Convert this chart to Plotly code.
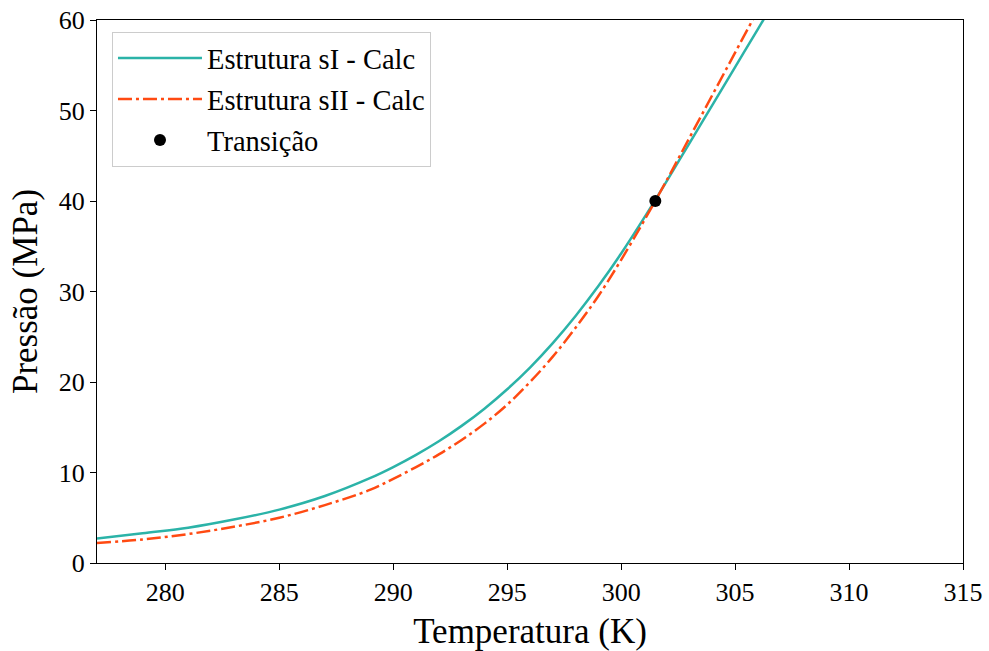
import plotly.graph_objects as go

# Estrutura sI - Calc
t_si = [277, 279, 281, 283, 285, 287, 289, 290, 291, 292, 293, 294, 295, 296, 297, 298, 299, 300, 301, 302, 303, 304, 305, 306, 306.5]
p_si = [2.7, 3.3, 3.9, 4.8, 5.9, 7.4, 9.4, 10.6, 11.95, 13.45, 15.15, 17.05, 19.2, 21.6, 24.3, 27.3, 30.6, 34.2, 38.1, 42.2, 46.4, 50.6, 54.8, 59.0, 61.1]

# Estrutura sII - Calc
t_sii = [277, 279, 281, 283, 285, 287, 289, 290, 291, 292, 293, 294, 295, 296, 297, 298, 299, 300, 301, 302, 303, 304, 305, 306]
p_sii = [2.2, 2.6, 3.2, 4.0, 5.0, 6.4, 8.1, 9.3, 10.6, 12.0, 13.6, 15.4, 17.5, 20.0, 22.8, 26.0, 29.5, 33.5, 37.8, 42.3, 47.0, 51.7, 56.4, 61.1]

# Transição
t_tr = [301.5]
p_tr = [40.0]

x_ticks = [280, 285, 290, 295, 300, 305, 310, 315]
y_ticks = [0, 10, 20, 30, 40, 50, 60]

FONT = "Liberation Serif, Times New Roman, serif"

fig = go.Figure()
fig.add_trace(go.Scatter(x=t_si, y=p_si, mode="lines", name="Estrutura sI - Calc",
                         line=dict(color="#2bb3a8", width=2.5, shape="spline", smoothing=1.0),
                         legendgroup="a"))
fig.add_trace(go.Scatter(x=t_sii, y=p_sii, mode="lines", name="Estrutura sII - Calc",
                         line=dict(color="#ff4a12", width=2.5, dash="14px,4px,3px,4px",
                                   shape="spline", smoothing=1.0),
                         legendgroup="b"))
fig.add_trace(go.Scatter(x=t_tr, y=p_tr, mode="markers", name="Transição",
                         marker=dict(color="black", size=12),
                         legendgroup="c"))

axis_common = dict(showline=True, linecolor="black", linewidth=1.2, mirror=True,
                   ticks="outside", ticklen=6, tickwidth=1.2, tickcolor="black",
                   showgrid=False, zeroline=False, automargin=False,
                   ticklabeloverflow="allow",
                   tickfont=dict(family=FONT, size=26, color="black"))

fig.update_xaxes(range=[277, 315], tickvals=x_ticks,
                 title=dict(text="Temperatura (K)", font=dict(family=FONT, size=35, color="black"), standoff=13),
                 **axis_common)
fig.update_yaxes(range=[0, 60], tickvals=y_ticks,
                 title=dict(text="Pressão (MPa)", font=dict(family=FONT, size=35, color="black"), standoff=10),
                 **axis_common)

fig.update_layout(
    template="none",
    width=989, height=651,
    margin=dict(l=97, r=26, t=20, b=88, autoexpand=False),
    paper_bgcolor="white", plot_bgcolor="white",
    font=dict(family=FONT, color="black"),
    showlegend=True,
    legend=dict(x=0.0173, y=0.978, xanchor="left", yanchor="top",
                bgcolor="rgba(255,255,255,0.9)", bordercolor="#cccccc", borderwidth=1,
                font=dict(family=FONT, size=28.5, color="black"),
                traceorder="grouped", tracegroupgap=1, itemwidth=84),
)

fig.write_html("out.html",
               config={"displayModeBar": False},
               post_script="document.body.style.margin='0';document.body.style.overflow='hidden';")
